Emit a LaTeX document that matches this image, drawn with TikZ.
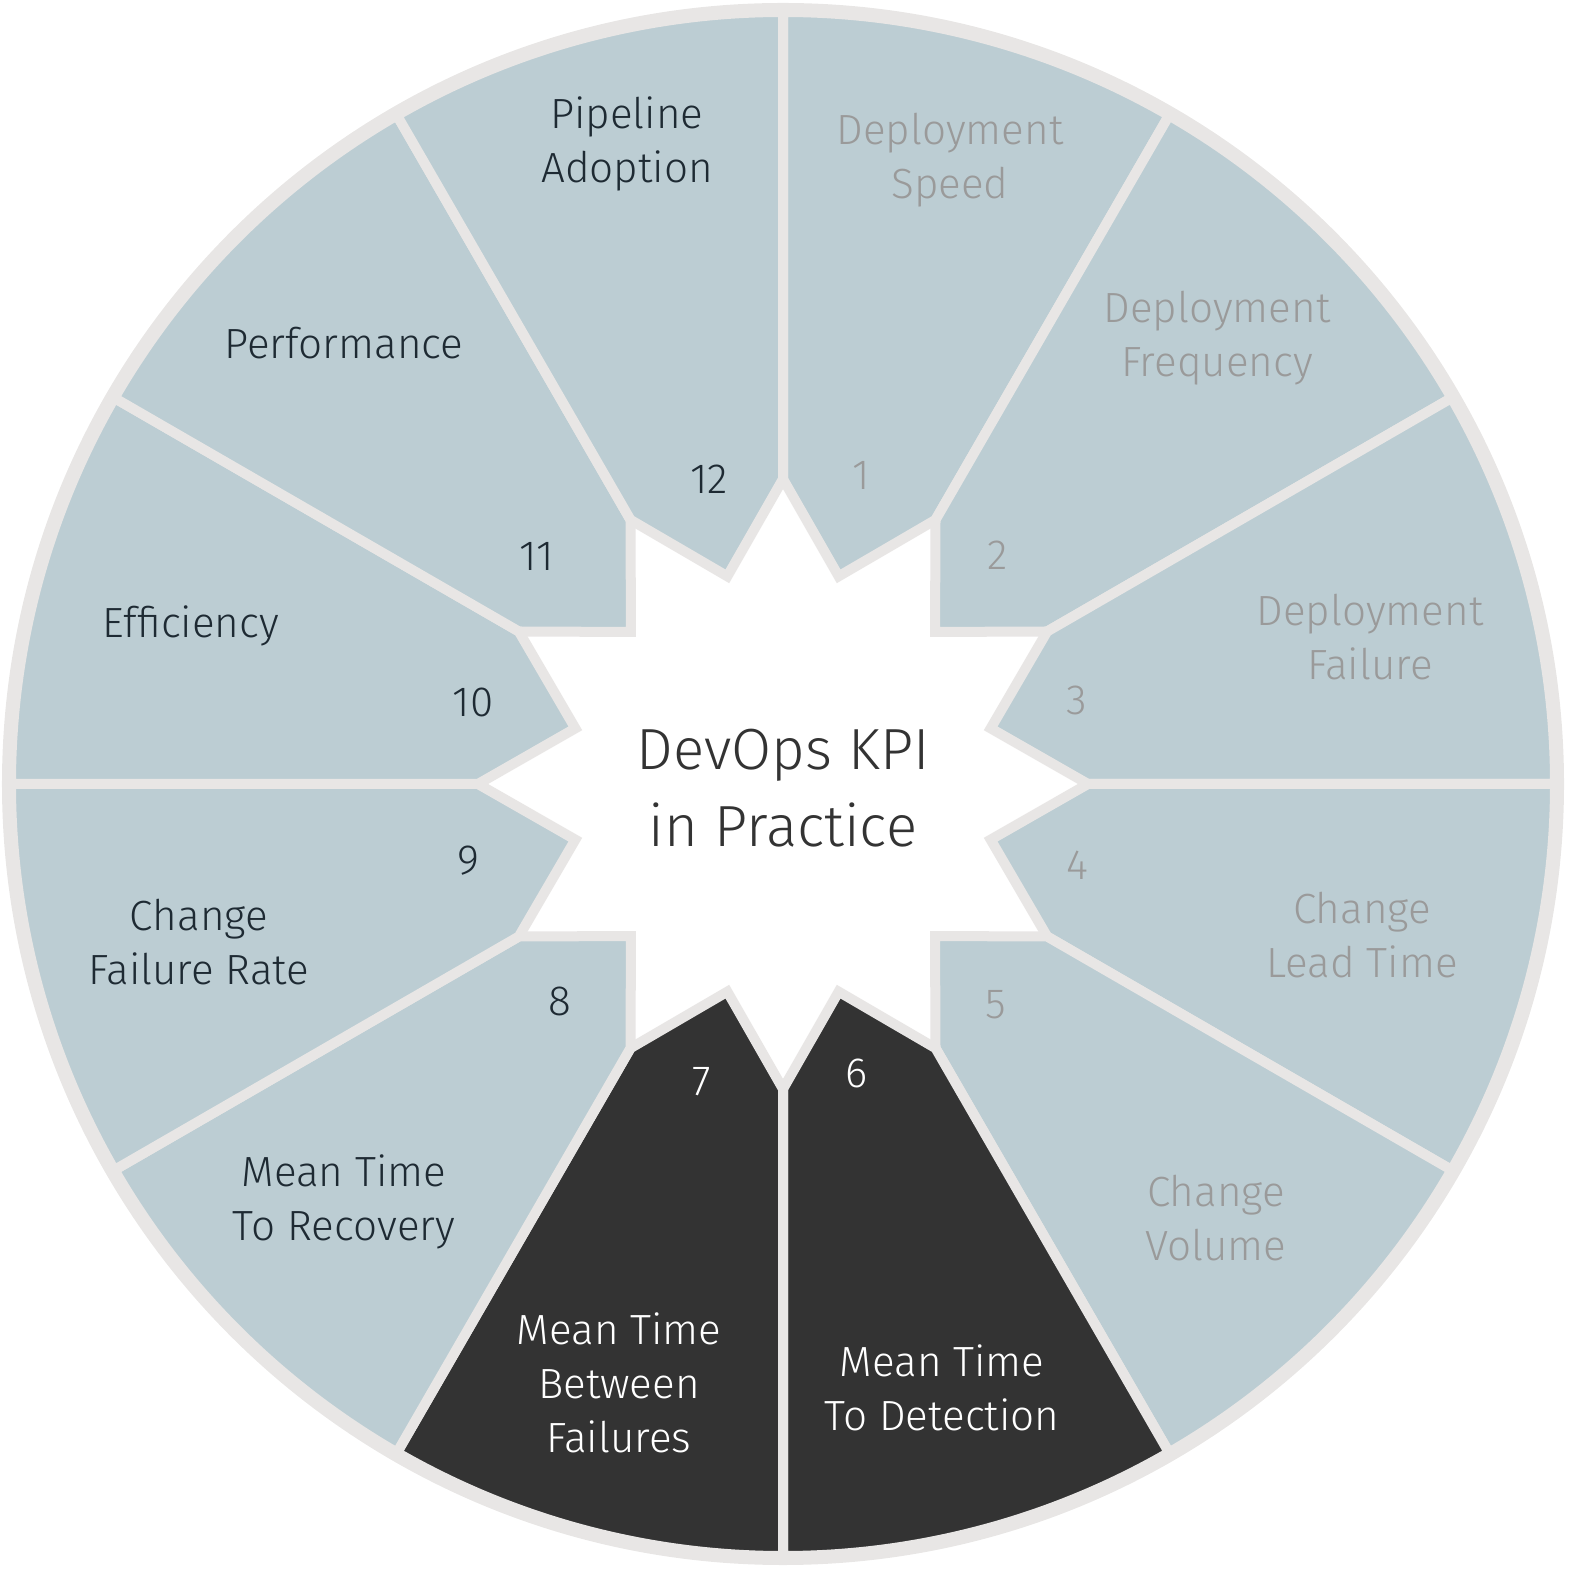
\documentclass[tikz,border=0pt]{standalone}
\usepackage{fontspec}
\setmainfont{Fira Sans Light}
\begin{document}
\begin{tikzpicture}[x=0.01cm,y=0.01cm,
  lbl/.style={align=center,font=\fontsize{12pt}{15.4pt}\selectfont,inner sep=0pt},
  cl/.style={lbl,text=lbldark}, cg/.style={lbl,text=lblgrey}, cw/.style={lbl,text=white}]
\definecolor{ring}{HTML}{E8E6E5}
\definecolor{seg}{HTML}{BCCDD3}
\definecolor{segdark}{HTML}{333333}
\definecolor{lbldark}{HTML}{1E2A33}
\definecolor{lblgrey}{HTML}{9A9A9A}
\useasboundingbox (-783,-811) rectangle (812,784);
\fill[ring] (0,0) circle (781);
\fill[white] (90:305) \foreach \k in {1,...,23}{ -- ({90-15*\k}:{mod(\k,2)==1 ? 215 : 305}) } -- cycle;
\foreach \i in {0,...,11}{
  \pgfmathsetmacro{\a}{90-30*\i}
  \ifnum\i=5 \def\c{segdark}\else\ifnum\i=6 \def\c{segdark}\else\def\c{seg}\fi\fi
  \filldraw[fill=\c,draw=ring,line width=0.1cm,line join=miter]
    (\a:305) -- (\a-15:215) -- (\a-30:305) -- (\a-30:772) arc (\a-30:\a:772) -- cycle;
}
\node[lbl,text=segdark,font=\fontsize{16.5pt}{22pt}\selectfont] (title) at (0,-4) {DevOps KPI\\in Practice};
\node[cg] (t1) at (167,624) {Deployment\\Speed};
\node[cg] (n1) at (78,309) {1};
\node[cg] (t2) at (434,446) {Deployment\\Frequency};
\node[cg] (n2) at (215,229) {2};
\node[cg] (t3) at (587,147) {Deployment\\Failure};
\node[cg] (n3) at (294,84) {3};
\node[cg] (t4) at (579,-151) {Change\\Lead Time};
\node[cg] (n4) at (294,-81) {4};
\node[cg] (t5) at (433,-434) {Change\\Volume};
\node[cg] (n5) at (213,-221) {5};
\node[cw] (t6) at (159,-604) {Mean Time\\To Detection};
\node[cw] (n6) at (74,-289) {6};
\node[cw] (t7) at (-164,-599) {Mean Time\\Between\\Failures};
\node[cw] (n7) at (-81,-298) {7};
\node[cl] (t8) at (-439,-418) {Mean Time\\To Recovery};
\node[cl] (n8) at (-223,-217) {8};
\node[cl] (t9) at (-584,-158) {Change\\Failure Rate};
\node[cl] (n9) at (-315,-77) {9};
\node[cl] (t10) at (-592,158) {Efficiency};
\node[cl] (n10) at (-310,82) {10};
\node[cl] (t11) at (-439,441) {Performance};
\node[cl] (n11) at (-246,228) {11};
\node[cl] (t12) at (-156,640) {Pipeline\\Adoption};
\node[cl] (n12) at (-74,305) {12};
\end{tikzpicture}
\end{document}
